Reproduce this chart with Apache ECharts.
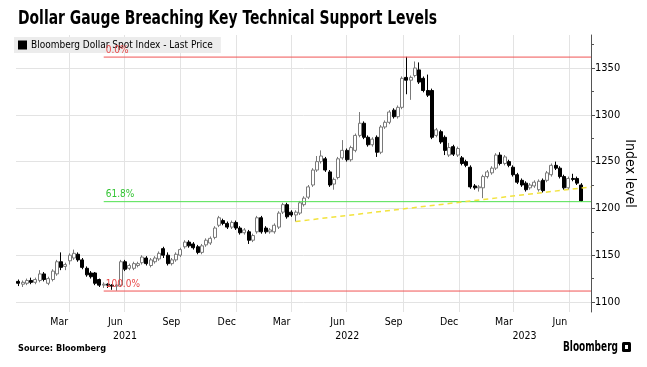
<!DOCTYPE html>
<html><head><meta charset="utf-8">
<script src="https://cdn.jsdelivr.net/npm/echarts@6/dist/echarts.min.js"></script>
<style>html,body{margin:0;padding:0;background:#fff}#c{width:647px;height:367px}</style>
</head><body><div id="c"></div>
<script>
// ---- data (weekly candles, Bloomberg Dollar Spot Index) ----
const firstWeek = '2021-01-08';
const opens = [1122,1119,1120,1123,1121,1123,1130,1120,1124,1130,1143,1138,1144,1147,1151,1145,1136,1131,1131,1124,
1118,1119,1118,1117,1118,1143,1136,1136,1139,1142,1147,1139,1143,1146,1157,1150,1141,1145,1150,1159,
1164,1162,1159,1153,1161,1163,1169,1182,1187,1184,1180,1185,1179,1174,1175,1166,1175,1190,1179,1175,
1175,1180,1196,1204,1196,1193,1195,1204,1212,1225,1241,1250,1253,1239,1226,1233,1254,1262,1252,1262,
1278,1291,1276,1268,1276,1260,1287,1292,1305,1298,1308,1340,1337,1342,1348,1339,1326,1326,1278,1282,
1276,1257,1266,1257,1254,1250,1244,1224,1222,1222,1234,1238,1243,1257,1248,1250,1244,1236,1230,1227,
1222,1224,1220,1230,1230,1236,1246,1243,1234,1222,1232,1232,1225];
const closes = [1120,1121,1123,1121,1124,1130,1124,1125,1133,1143,1137,1140,1150,1152,1145,1137,1129,1127,1120,1118,
1119,1118,1117,1118,1143,1135,1139,1141,1141,1148,1141,1145,1147,1152,1150,1141,1145,1151,1156,1164,
1160,1158,1153,1160,1166,1168,1179,1190,1184,1180,1185,1179,1174,1177,1166,1171,1190,1175,1175,1177,
1182,1195,1204,1191,1193,1196,1206,1211,1223,1241,1250,1256,1241,1225,1231,1253,1262,1252,1265,1278,
1291,1276,1268,1274,1260,1287,1292,1303,1298,1308,1339,1337,1340,1350,1335,1326,1321,1276,1284,1271,
1262,1265,1258,1264,1248,1246,1223,1222,1223,1234,1239,1243,1257,1248,1255,1246,1236,1228,1225,1220,
1225,1228,1229,1219,1238,1246,1243,1234,1222,1232,1231,1227,1208];
const lows = [1117,1116,1118,1119,1119,1121,1122,1118,1122,1128,1134,1134,1140,1145,1143,1135,1127,1125,1118,1116,
1115,1115,1113,1112,1116,1133,1134,1134,1137,1140,1139,1137,1141,1144,1147,1139,1139,1143,1148,1157,
1158,1156,1151,1151,1159,1161,1167,1180,1182,1178,1178,1177,1172,1172,1162,1164,1173,1173,1173,1173,
1173,1178,1194,1189,1191,1186,1193,1202,1210,1223,1239,1248,1239,1223,1220,1231,1252,1250,1250,1260,
1276,1274,1266,1266,1255,1258,1285,1290,1296,1296,1306,1322,1316,1340,1333,1324,1319,1274,1276,1269,
1257,1255,1256,1255,1246,1244,1221,1220,1218,1211,1232,1236,1241,1246,1246,1244,1234,1226,1223,1218,
1220,1222,1218,1217,1228,1234,1241,1232,1220,1220,1229,1225,1207];
const highs = [1124,1123,1125,1126,1126,1134,1132,1127,1135,1145,1153,1142,1152,1156,1153,1147,1138,1133,1132,1125,
1121,1120,1119,1119,1145,1145,1141,1143,1143,1150,1149,1147,1149,1154,1159,1153,1147,1153,1158,1166,
1166,1164,1161,1162,1168,1170,1181,1192,1189,1186,1187,1187,1181,1179,1177,1173,1192,1192,1181,1179,
1184,1197,1206,1206,1198,1198,1208,1213,1225,1243,1256,1262,1255,1241,1233,1255,1273,1264,1267,1280,
1303,1293,1278,1276,1278,1289,1294,1305,1307,1310,1341,1362,1342,1357,1356,1341,1343,1328,1286,1284,
1278,1270,1268,1266,1256,1252,1246,1226,1225,1236,1241,1245,1259,1260,1257,1252,1246,1238,1232,1229,
1227,1230,1231,1232,1240,1248,1250,1245,1236,1234,1237,1234,1227];

// Fibonacci retracement levels and trend line
const fibLabels = ['0.0%', '61.8%', '100.0%'];
const fibValues = [1361.7, 1207.2, 1111.7];
const fibStart = '2021-05-28';
const trendStart = ['2022-04-08', 1186];
const trendEnd = ['2023-08-06', 1223];

// axes
const xMinDate = '2021-01-04';
const xMaxDate = '2023-08-06';
const gridDates = ['2021-04-01','2021-07-01','2021-10-01','2022-01-01','2022-04-01','2022-07-01','2022-10-01','2023-01-01','2023-04-01','2023-07-01'];
const monthLabelDates = ['2021-03-16','2021-06-16','2021-09-16','2021-12-16','2022-03-16','2022-06-16','2022-09-16','2022-12-16','2023-03-16','2023-06-16'];
const monthLabels = ['Mar','Jun','Sep','Dec','Mar','Jun','Sep','Dec','Mar','Jun'];
const yearLabelDates = ['2021-07-02','2022-07-02','2023-04-19'];
const yearLabels = ['2021','2022','2023'];
const yTicks = [1100,1150,1200,1250,1300,1350];
const yMinorTicks = [1100,1125,1150,1175,1200,1225,1250,1275,1300,1325,1350,1375];
const yMin = 1089.3, yMax = 1385.3;

// ---- build ----
const ts = s => Date.parse(s);
const DAY = 86400000;
const candles = opens.map((o, i) => [ts(firstWeek) + i * 7 * DAY, o, closes[i], lows[i], highs[i]]);
const monthMap = {}; monthLabelDates.forEach((d, i) => monthMap[ts(d)] = monthLabels[i]);
const yearMap = {}; yearLabelDates.forEach((d, i) => yearMap[ts(d)] = yearLabels[i]);
const FONT = 'DejaVu Sans Condensed, DejaVu Sans, sans-serif';
const seriesName = 'Bloomberg Dollar Spot Index - Last Price';
const fibColors = ['#f05454', '#4fe04f', '#f05454'];
const fibText = ['#e84848', '#33c433', '#e84848'];

const ctx = document.createElement('canvas').getContext('2d');
function fitScale(text, font, target) { ctx.font = font; return target / ctx.measureText(text).width; }
const titleText = 'Dollar Gauge Breaching Key Technical Support Levels';
const titleFont = 'bold 20px ' + FONT;
const logoFont = 'bold 14px ' + FONT;
const srcFont = 'bold 9.5px ' + FONT;

const fibSeries = fibValues.map((v, i) => ({
  type: 'line', silent: true, z: 10, symbol: 'circle', symbolSize: 0.01, showSymbol: true,
  lineStyle: {color: fibColors[i], width: 1}, itemStyle: {color: fibColors[i]},
  data: [
    {value: [ts(fibStart), v], label: {show: true, formatter: fibLabels[i], position: [2, -12],
      align: 'left', verticalAlign: 'top', color: fibText[i], fontSize: 10, fontFamily: FONT}},
    {value: [ts(xMaxDate), v], label: {show: false}}
  ]
}));
const trendSeries = {
  type: 'line', silent: true, z: 10, symbol: 'none',
  lineStyle: {color: '#f2e33c', width: 1.5, type: [5, 4]},
  data: [[ts(trendStart[0]), trendStart[1]], [ts(trendEnd[0]), trendEnd[1]]]
};

const chart = echarts.init(document.getElementById('c'), null, {renderer: 'canvas'});
chart.setOption({
  animation: false,
  backgroundColor: '#fff',
  legend: {data: [{name: seriesName, itemStyle: {color: '#000', borderColor: '#000'}}],
    left: 14, top: 37, z: 4, icon: 'rect', itemWidth: 7, itemHeight: 7, itemGap: 3,
    backgroundColor: '#ececec', padding: [3, 8, 3, 4],
    textStyle: {fontFamily: FONT, fontSize: 10, color: '#000'}},
  grid: {left: 16, right: 56, top: 35, bottom: 55, containLabel: false, outerBoundsMode: 'none'},
  xAxis: [
    {type: 'value', min: ts(xMinDate), max: ts(xMaxDate), position: 'bottom',
     axisLine: {show: false}, axisTick: {show: false, customValues: gridDates.map(ts)},
     splitLine: {show: true, lineStyle: {color: '#e3e3e3', width: 1}},
     axisLabel: {customValues: monthLabelDates.map(ts), formatter: v => monthMap[v] || '',
       margin: 5, fontSize: 10.5, fontFamily: FONT, color: '#000'}},
    {type: 'value', min: ts(xMinDate), max: ts(xMaxDate), position: 'bottom', offset: 14,
     axisLine: {show: false}, axisTick: {show: false, customValues: yearLabelDates.map(ts)}, splitLine: {show: false},
     axisLabel: {customValues: yearLabelDates.map(ts), formatter: v => yearMap[v] || '',
       margin: 5, fontSize: 10.5, fontFamily: FONT, color: '#000'}}
  ],
  yAxis: [
    {type: 'value', position: 'right', min: yMin, max: yMax,
     axisLine: {show: true, lineStyle: {color: '#555'}},
     axisTick: {show: true, customValues: yTicks, length: 4, lineStyle: {color: '#555'}},
     axisLabel: {customValues: yTicks, formatter: v => String(v), margin: 4, fontSize: 11, fontFamily: FONT, color: '#000'},
     splitLine: {show: true, lineStyle: {color: '#e3e3e3'}},
     name: 'Index level', nameLocation: 'middle', nameRotate: -90, nameGap: 32, nameMoveOverlap: false,
     nameTextStyle: {fontFamily: FONT, fontSize: 14, color: '#000'}},
    {type: 'value', position: 'right', min: yMin, max: yMax,
     axisLine: {show: false}, axisLabel: {show: false}, splitLine: {show: false},
     axisTick: {show: true, customValues: yMinorTicks, length: 3, lineStyle: {color: '#555'}}}
  ],
  series: [{
    name: seriesName, type: 'candlestick', xAxisIndex: 0, yAxisIndex: 0, z: 5,
    data: candles, barWidth: 3.5,
    itemStyle: {color: '#fff', color0: '#000', borderColor: '#7a7a7a', borderColor0: '#000', borderWidth: 1}
  }].concat(fibSeries, [trendSeries]),
  graphic: [
    {type: 'text', x: 18, y: 9, scaleX: fitScale(titleText, titleFont, 419), style: {text: titleText, font: titleFont, fill: '#000'}},
    {type: 'text', x: 18, y: 344, scaleX: fitScale('Source: Bloomberg', srcFont, 88), style: {text: 'Source: Bloomberg', font: srcFont, fill: '#000'}},
    {type: 'text', x: 563, y: 340, scaleX: fitScale('Bloomberg', logoFont, 55), style: {text: 'Bloomberg', font: logoFont, fill: '#000'}},
    {type: 'rect', x: 622, y: 342, shape: {width: 9, height: 10, r: 1.5}, style: {fill: '#000'}},
    {type: 'rect', x: 625, y: 345, shape: {width: 3, height: 4}, style: {fill: '#fff'}}
  ]
});
</script></body></html>
